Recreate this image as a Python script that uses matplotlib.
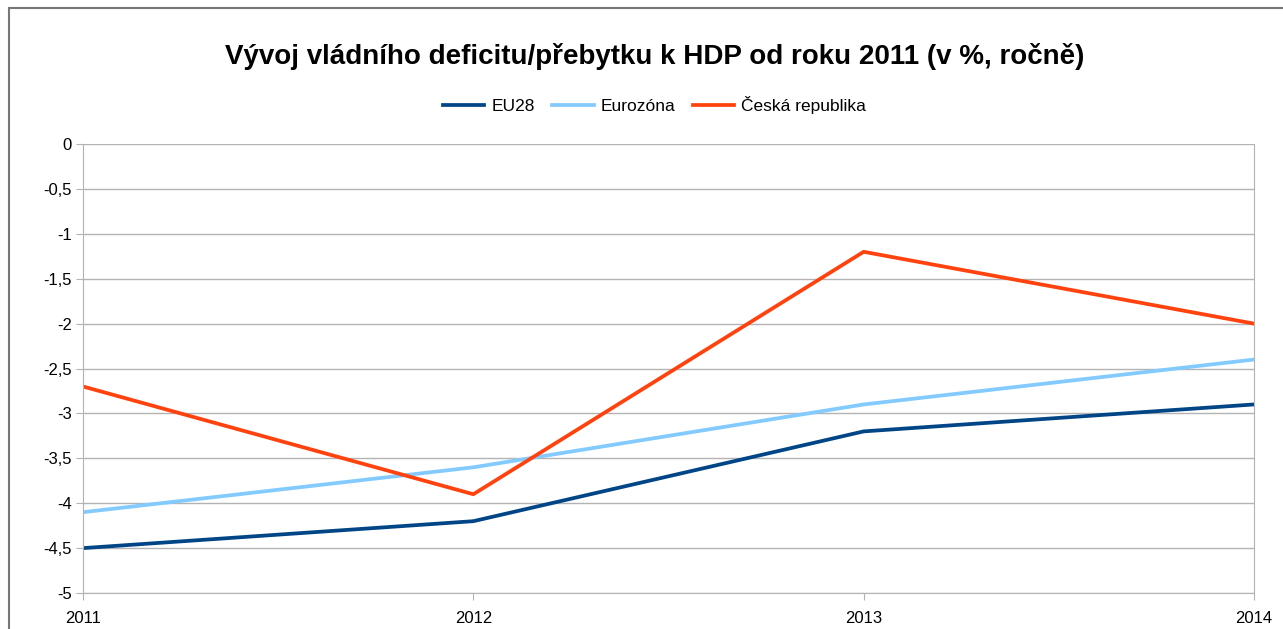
import matplotlib.pyplot as plt
from matplotlib.patches import Rectangle

plt.rcParams['font.family'] = ['Liberation Sans', 'DejaVu Sans']

# Data (v % HDP)
years = [2011, 2012, 2013, 2014]
eu28 = [-4.5, -4.2, -3.2, -2.9]
eurozona = [-4.1, -3.6, -2.9, -2.4]
cr = [-2.7, -3.9, -1.2, -2.0]
y_ticks = [0, -0.5, -1, -1.5, -2, -2.5, -3, -3.5, -4, -4.5, -5]

fig = plt.figure(figsize=(12.83, 6.29), dpi=100)
ax = fig.add_axes([0.0647, 0.0572, 0.9127, 0.7138])

ax.plot(years, eu28, color='#004586', linewidth=2.7, label='EU28')
ax.plot(years, eurozona, color='#83caff', linewidth=2.7, label='Eurozóna')
ax.plot(years, cr, color='#ff420e', linewidth=2.7, label='Česká republika')

ax.set_xlim(2011, 2014)
ax.set_ylim(-5, 0)
ax.set_xticks(years)
ax.set_xticklabels([str(y) for y in years], fontsize=12)
ax.set_yticks(y_ticks)
ax.set_yticklabels([f'{v:g}'.replace('.', ',') for v in y_ticks], fontsize=12)
ax.grid(True, axis='y', color='#b3b3b3', linewidth=1)
ax.tick_params(axis='both', color='#b3b3b3', length=5, pad=3)
ax.tick_params(axis='x', pad=8)
for s in ['left', 'right', 'bottom']:
    ax.spines[s].set_color('#b3b3b3')
ax.spines['top'].set_visible(False)

fig.suptitle('Vývoj vládního deficitu/přebytku k HDP od roku 2011 (v %, ročně)',
             x=0.51, y=0.932, fontsize=20, fontweight='bold')
fig.legend(loc='center', bbox_to_anchor=(0.51, 0.833), ncol=3, frameon=False,
           fontsize=12.5, handlelength=2.4, columnspacing=1.0, handletextpad=0.4)

# outer chart frame
fig.patches.append(Rectangle((9 / 1283, -0.1), 1.2, 0.1 + 621 / 629, transform=fig.transFigure,
                             fill=False, edgecolor='#777777', linewidth=1.5))

fig.savefig('out.png', dpi=100)
